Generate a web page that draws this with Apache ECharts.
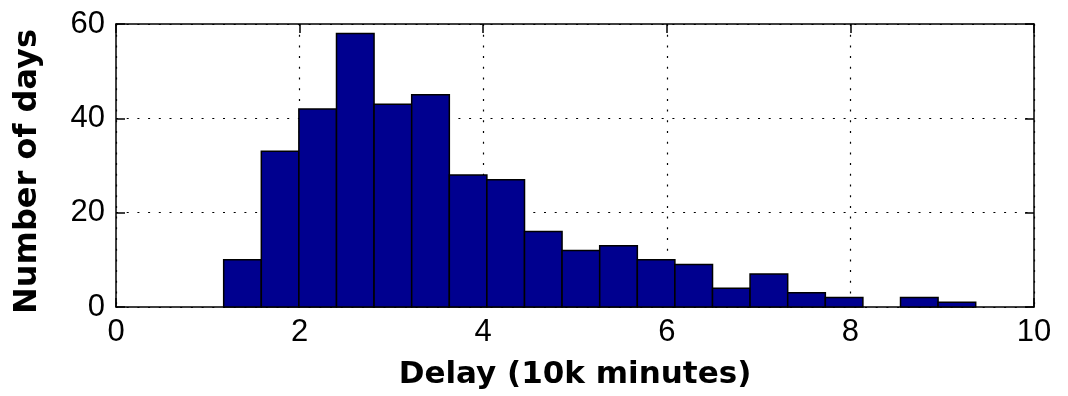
<!DOCTYPE html>
<html>
<head>
<meta charset="utf-8">
<style>html,body{margin:0;padding:0;background:#fff;}#c{width:1068px;height:396px;}</style>
<script src="https://cdn.jsdelivr.net/npm/echarts@6/dist/echarts.min.js"></script>
</head>
<body>
<div id="c"></div>
<script>
// Histogram bin edges (10k minutes)
const binEdges = [1.173, 1.583, 1.992, 2.402, 2.811, 3.221, 3.631, 4.040, 4.450, 4.859, 5.269,
                  5.679, 6.088, 6.498, 6.907, 7.317, 7.727, 8.136, 8.546, 8.955, 9.365];
// Number of days in each bin
const counts = [10, 33, 42, 58, 43, 45, 28, 27, 16, 12, 13, 10, 9, 4, 7, 3, 2, 0, 2, 1];
const xTicks = [0, 2, 4, 6, 8, 10];
const yTicks = [0, 20, 40, 60];
const xTitle = 'Delay (10k minutes)';
const yTitle = 'Number of days';

const histData = counts.map((c, i) => [binEdges[i], binEdges[i + 1], c]);

const chart = echarts.init(document.getElementById('c'), null, {renderer: 'canvas'});
const tickFont = {fontFamily: 'Liberation Sans', fontSize: 31, color: '#000'};
const dotted = {color: '#000', width: 1.2, type: [2, 8.7]};
const axisLine = {show: true, onZero: false, lineStyle: {color: '#000', width: 1.5}};
const axisTick = {show: true, inside: true, length: 9, lineStyle: {color: '#000', width: 1.5}};

chart.setOption({
  animation: false,
  grid: {left: 116, right: 34, top: 24, bottom: 89},
  xAxis: [{
    type: 'value', min: xTicks[0], max: xTicks[xTicks.length - 1], interval: 2,
    position: 'bottom',
    name: xTitle, nameLocation: 'middle', nameGap: 52,
    nameTextStyle: {fontFamily: 'DejaVu Sans', fontWeight: 'bold', fontSize: 31, color: '#000'},
    axisLine: axisLine, axisTick: axisTick,
    axisLabel: Object.assign({margin: 10}, tickFont),
    splitLine: {show: true, lineStyle: dotted}
  }, {
    type: 'value', min: xTicks[0], max: xTicks[xTicks.length - 1], interval: 2,
    position: 'top',
    axisLine: axisLine, axisTick: axisTick,
    axisLabel: {show: false},
    splitLine: {show: false}
  }],
  yAxis: [{
    type: 'value', min: yTicks[0], max: yTicks[yTicks.length - 1], interval: 20,
    position: 'left',
    name: yTitle, nameLocation: 'middle', nameGap: 72, nameRotate: 90,
    nameTextStyle: {fontFamily: 'DejaVu Sans', fontWeight: 'bold', fontSize: 32, color: '#000', padding: [0, 12, 0, 0]},
    axisLine: axisLine, axisTick: axisTick,
    axisLabel: Object.assign({margin: 11}, tickFont),
    splitLine: {show: true, lineStyle: dotted}
  }, {
    type: 'value', min: yTicks[0], max: yTicks[yTicks.length - 1], interval: 20,
    position: 'right',
    axisLine: axisLine, axisTick: axisTick,
    axisLabel: {show: false},
    splitLine: {show: false}
  }],
  series: [{
    type: 'custom',
    xAxisIndex: 0, yAxisIndex: 0,
    data: histData,
    encode: {x: [0, 1], y: 2},
    renderItem: function (params, api) {
      const c = api.value(2);
      if (!c) return null;
      const p0 = api.coord([api.value(0), c]);
      const p1 = api.coord([api.value(1), 0]);
      return {
        type: 'rect',
        shape: {x: p0[0], y: p0[1], width: p1[0] - p0[0], height: p1[1] - p0[1]},
        style: {fill: '#00008F', stroke: '#000', lineWidth: 1.5}
      };
    }
  }]
});
</script>
</body>
</html>
